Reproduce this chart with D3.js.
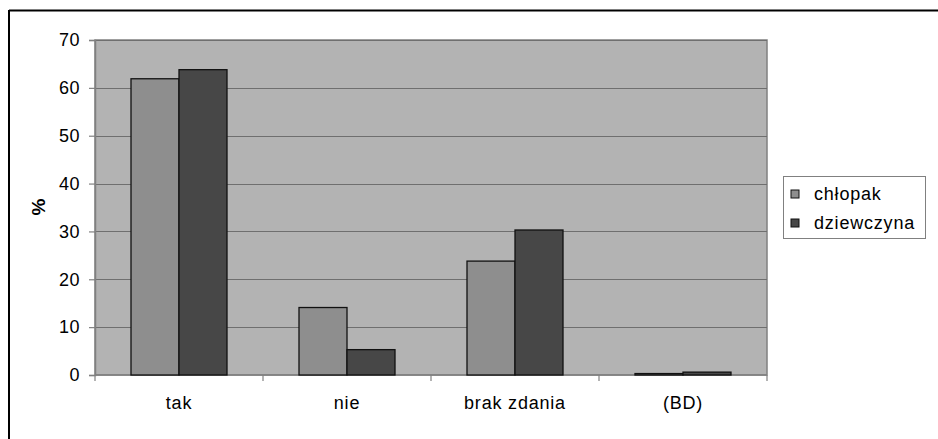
<!DOCTYPE html>
<html>
<head>
<meta charset="utf-8">
<script src="https://cdn.jsdelivr.net/npm/d3@7"></script>
<style>
  body { margin: 0; background: #fff; }
  text { font-family: "Liberation Sans", Arial, sans-serif; }
</style>
</head>
<body>
<div id="chart"></div>
<script>
// Data
const categories = ["tak", "nie", "brak zdania", "(BD)"];
const seriesNames = ["chłopak", "dziewczyna"];
const chlopak = [61.9, 14.1, 23.8, 0.3];
const dziewczyna = [63.8, 5.3, 30.3, 0.6];
const yTicks = [0, 10, 20, 30, 40, 50, 60, 70];
const colors = ["#8e8e8e", "#474747"];

const width = 938, height = 439;
const svg = d3.select("#chart").append("svg")
    .attr("width", width)
    .attr("height", height);

// outer frame (cropped on right/bottom)
svg.append("line").attr("x1", 9).attr("x2", width).attr("y1", 10.5).attr("y2", 10.5)
    .attr("stroke", "#000").attr("stroke-width", 2);
svg.append("line").attr("x1", 9).attr("x2", 9).attr("y1", 10).attr("y2", height)
    .attr("stroke", "#000").attr("stroke-width", 2);

const plot = { left: 95, top: 40, right: 767, bottom: 375 };

const x = d3.scaleBand()
    .domain(categories)
    .range([plot.left, plot.right])
    .paddingInner(0).paddingOuter(0);

const xSub = d3.scaleBand()
    .domain(seriesNames)
    .range([0, x.bandwidth()])
    .paddingInner(0)
    .paddingOuter(0.75);

const y = d3.scaleLinear().domain([0, 70]).range([plot.bottom, plot.top]);

// plot background
svg.append("rect")
    .attr("x", plot.left).attr("y", plot.top)
    .attr("width", plot.right - plot.left).attr("height", plot.bottom - plot.top)
    .attr("fill", "#b3b3b3")
    .attr("stroke", "#808080").attr("stroke-width", 1.5);

// gridlines
svg.append("g").selectAll("line")
    .data(yTicks.filter(d => d > 0))
    .enter().append("line")
    .attr("x1", plot.left).attr("x2", plot.right)
    .attr("y1", d => Math.round(y(d)) + 0.5).attr("y2", d => Math.round(y(d)) + 0.5)
    .attr("stroke", "#6f6f6f").attr("stroke-width", 1.2);

// y axis
const yAxis = svg.append("g")
    .attr("transform", `translate(${plot.left},0)`)
    .call(d3.axisLeft(y).tickValues(yTicks).tickSize(6).tickPadding(9));
yAxis.select(".domain").attr("stroke", "#808080").attr("stroke-width", 1.5);
yAxis.selectAll(".tick line").attr("stroke", "#808080").attr("stroke-width", 1.2);
yAxis.selectAll("text").attr("font-size", 18).attr("fill", "#000")
    .style("letter-spacing", "0.5px")
    .style("font-family", "'Liberation Sans', Arial, sans-serif");

// x axis: ticks at category boundaries
const xAxisG = svg.append("g").attr("transform", `translate(0,${plot.bottom})`);
xAxisG.append("line")
    .attr("x1", plot.left).attr("x2", plot.right)
    .attr("stroke", "#808080").attr("stroke-width", 1.5);
xAxisG.selectAll(".bt")
    .data(categories.map(c => x(c)).concat([plot.right]))
    .enter().append("line")
    .attr("x1", d => d).attr("x2", d => d)
    .attr("y1", 0).attr("y2", 6)
    .attr("stroke", "#808080").attr("stroke-width", 1.2);
xAxisG.selectAll(".lab")
    .data(categories)
    .enter().append("text")
    .attr("x", d => x(d) + x.bandwidth() / 2)
    .attr("y", 34)
    .attr("text-anchor", "middle")
    .attr("font-size", 18)
    .style("letter-spacing", "0.8px")
    .text(d => d);

// bars
const rows = categories.map((c, i) => ({ cat: c, values: [chlopak[i], dziewczyna[i]] }));
const groups = svg.append("g").selectAll("g")
    .data(rows)
    .enter().append("g")
    .attr("transform", d => `translate(${x(d.cat)},0)`);
groups.selectAll("rect")
    .data(d => d.values.map((v, j) => ({ name: seriesNames[j], value: v, j: j })))
    .enter().append("rect")
    .attr("x", d => xSub(d.name))
    .attr("width", xSub.bandwidth())
    .attr("y", d => y(d.value))
    .attr("height", d => y(0) - y(d.value))
    .attr("fill", d => colors[d.j])
    .attr("stroke", "#111")
    .attr("stroke-width", 1.3);

// y axis title
svg.append("text")
    .attr("transform", "translate(45,207) rotate(-90)")
    .attr("text-anchor", "middle")
    .attr("font-size", 19)
    .attr("font-weight", "bold")
    .text("%");

// legend
const legend = svg.append("g");
legend.append("rect")
    .attr("x", 783.5).attr("y", 176.5).attr("width", 142).attr("height", 62)
    .attr("fill", "#fff").attr("stroke", "#808080").attr("stroke-width", 1);
const li = legend.selectAll(".li")
    .data(seriesNames)
    .enter().append("g")
    .attr("transform", (d, i) => `translate(791,${190 + i * 29})`);
li.append("rect")
    .attr("x", 0).attr("y", 0).attr("width", 8).attr("height", 8)
    .attr("fill", (d, i) => colors[i])
    .attr("stroke", "#111").attr("stroke-width", 1);
li.append("text")
    .attr("x", 23).attr("y", 10)
    .attr("font-size", 18)
    .style("letter-spacing", "0.8px")
    .text(d => d);
</script>
</body>
</html>
